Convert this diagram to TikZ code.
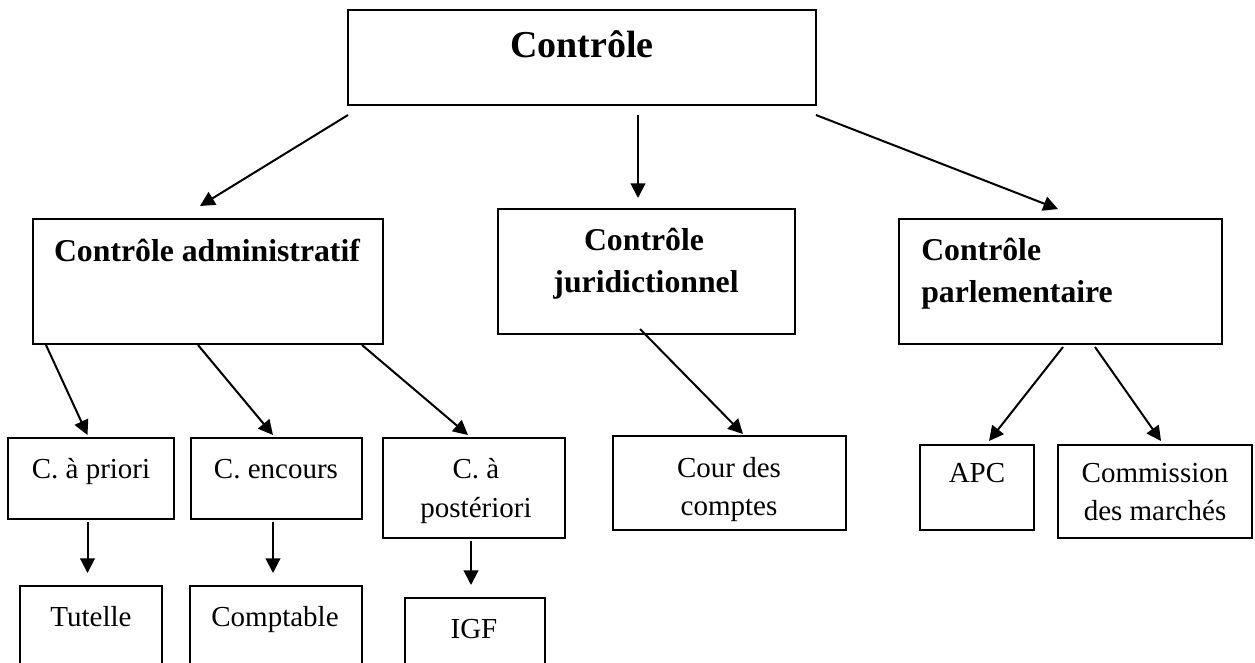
\documentclass[tikz,border=0pt]{standalone}
\usepackage{fontspec}
\setmainfont{Liberation Serif}
\usetikzlibrary{fit,calc,arrows.meta}
\tikzset{
  box/.style={draw=black, line width=1.1pt, inner sep=0pt, outer sep=0pt, rectangle},
  reg/.style={inner sep=0pt, anchor=base, font=\fontsize{21.75}{26}\selectfont},
  bld/.style={inner sep=0pt, anchor=base, font=\fontsize{23.8}{28}\selectfont\bfseries},
  ttl/.style={inner sep=0pt, anchor=base, font=\fontsize{28.5}{34}\selectfont\bfseries},
  arr/.style={line width=1.5pt, -{Triangle[length=11pt,width=11pt]}}
}
\begin{document}
\begin{tikzpicture}[x=0.75pt,y=-0.75pt]
\useasboundingbox (0,0) rectangle (1255,662);
\clip (0,0) rectangle (1255,662);
% boxes
\node[box, fit={(348,10)(816,105)}] (top) {};
\node[box, fit={(33,219)(383,344)}] (adm) {};
\node[box, fit={(498,209)(795,334)}] (jur) {};
\node[box, fit={(899,219)(1222,344)}] (parl) {};
\node[box, fit={(8,438)(174,519)}] (pri) {};
\node[box, fit={(191,438)(362,519)}] (enc) {};
\node[box, fit={(383,438)(565,538)}] (post) {};
\node[box, fit={(20,586)(162,720)}] (tut) {};
\node[box, fit={(190,586)(362,720)}] (comp) {};
\node[box, fit={(405,598)(545,720)}] (igf) {};
\node[box, fit={(613,436)(846,530)}] (cour) {};
\node[box, fit={(920,445)(1034,530)}] (apc) {};
\node[box, fit={(1058,445)(1252,538)}] (comm) {};
% texts
\node[ttl] (ttop) at (582,57) {Contrôle};
\node[bld] (tadm) at (207,261) {Contrôle administratif};
\node[bld] (tjur1) at (644,250) {Contrôle};
\node[bld] (tjur2) at (646,292) {juridictionnel};
\node[bld, anchor=base west] (tparl1) at (921,260) {Contrôle};
\node[bld, anchor=base west] (tparl2) at (921,302) {parlementaire};
\node[reg] (tpri) at (91,478) {C. à priori};
\node[reg] (tenc) at (276,478) {C. encours};
\node[reg] (tpost1) at (476,478) {C. à};
\node[reg] (tpost2) at (476,517) {postériori};
\node[reg] (ttut) at (91,626) {Tutelle};
\node[reg] (tcomp) at (275,626) {Comptable};
\node[reg] (tigf) at (474,638) {IGF};
\node[reg] (tcour1) at (729,477) {Cour des};
\node[reg] (tcour2) at (729,515) {comptes};
\node[reg] (tapc) at (977,482) {APC};
\node[reg] (tcomm1) at (1155,482) {Commission};
\node[reg] (tcomm2) at (1155,520) {des marchés};
% arrows
\draw[arr] ($(top.south west)+(0,10)$) -- ($(adm.north west)+(167,-13)$);
\draw[arr] ($(top.south)+(56,10)$) -- ($(jur.north)+(-8.5,-11)$);
\draw[arr] ($(top.south east)+(0,10)$) -- ($(parl.north west)+(159,-10)$);
\draw[arr] ($(adm.south west)+(13,1)$) -- ($(pri.north)+(-3.5,-3)$);
\draw[arr] ($(adm.south west)+(165,1)$) -- ($(enc.north)+(-3.5,-3)$);
\draw[arr] ($(adm.south east)+(-21,1)$) -- ($(post.north west)+(85,-3)$);
\draw[arr] ($(pri.south)+(-3.5,3)$) -- ($(tut.north)+(-3.5,-13)$);
\draw[arr] ($(enc.south)+(-3.5,3)$) -- ($(comp.north)+(-3,-13)$);
\draw[arr] ($(post.south)+(-3,3)$) -- ($(igf.north)+(-4,-13)$);
\draw[arr] ($(jur.south)+(-6.5,-5)$) -- ($(cour.north)+(13.5,-2)$);
\draw[arr] ($(parl.south)+(2.5,3)$) -- ($(apc.north)+(12,-4)$);
\draw[arr] ($(parl.south)+(34.5,3)$) -- ($(comm.north)+(6,-4)$);
\end{tikzpicture}
\end{document}
